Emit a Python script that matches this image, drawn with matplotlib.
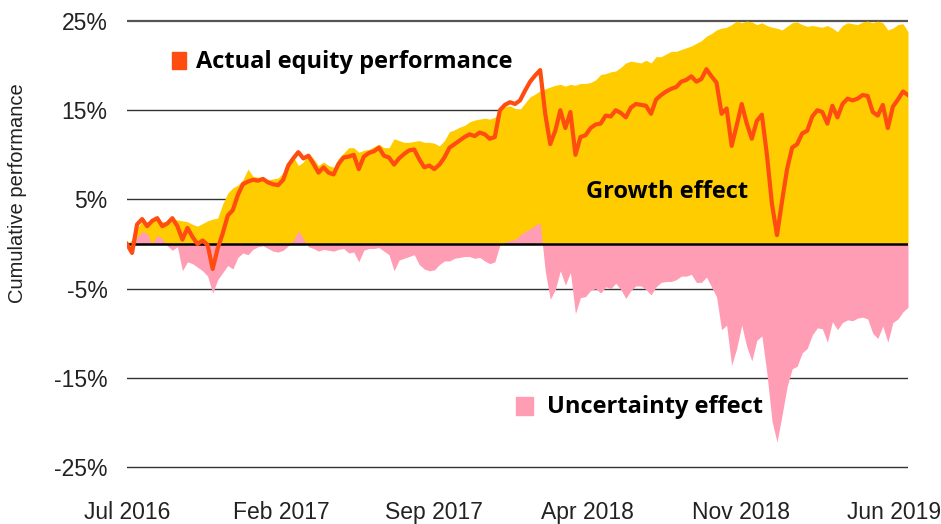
import matplotlib
matplotlib.use("Agg")
import matplotlib.pyplot as plt
from matplotlib.patches import Rectangle
import pandas as pd

# weekly readings (Fridays), Jul 2016 - Jun 2019, in %
start = "2016-07-01"
n_weeks = 156

actual = [0.0, -1.0, 2.2, 2.8, 2.0, 2.6, 2.9, 2.0, 2.3, 2.9,
          2.0, 0.5, 1.8, 0.8, 0.0, 0.4, -0.1, -2.8, -0.5, 1.2,
          3.2, 3.8, 5.5, 6.7, 7.0, 7.2, 7.1, 7.3, 6.9, 6.7,
          6.6, 7.2, 8.8, 9.6, 10.3, 9.6, 9.9, 9.0, 8.0, 8.6,
          8.0, 7.8, 9.0, 9.7, 9.8, 10.0, 8.4, 9.8, 10.2, 10.4,
          10.8, 9.9, 9.7, 8.9, 9.6, 10.1, 10.5, 10.6, 9.5, 8.6,
          8.8, 8.4, 8.9, 9.7, 10.8, 11.2, 11.6, 12.0, 12.3, 12.1,
          12.5, 12.3, 11.8, 12.0, 15.0, 15.6, 15.9, 15.7, 16.1, 17.2,
          18.2, 18.9, 19.5, 14.6, 11.2, 12.7, 15.0, 13.0, 14.8, 10.0,
          12.0, 12.2, 13.0, 13.4, 13.5, 14.4, 14.3, 15.0, 14.7, 14.2,
          15.3, 15.7, 15.6, 15.5, 14.6, 16.2, 16.7, 17.1, 17.4, 17.6,
          18.2, 18.4, 18.8, 18.2, 18.5, 19.6, 18.8, 18.1, 14.6, 15.2,
          11.0, 13.3, 15.7, 13.5, 11.8, 13.8, 14.5, 10.0, 4.5, 1.0,
          4.8, 8.4, 10.8, 11.2, 12.4, 12.7, 14.3, 15.0, 14.8, 13.5,
          15.5, 14.2, 15.7, 16.3, 16.1, 16.3, 16.7, 16.6, 14.8, 14.4,
          15.6, 13.0, 15.4, 16.2, 17.1, 16.7]

growth = [0.0, 0.5, 1.8, 2.5, 2.5, 2.6, 2.7, 2.5, 2.5, 2.8,
          2.7, 2.6, 2.5, 2.2, 2.0, 2.3, 2.6, 2.8, 2.9, 4.5,
          5.7, 6.3, 6.6, 7.2, 8.4, 7.6, 7.5, 7.5, 7.2, 7.3,
          7.4, 8.0, 9.2, 9.8, 8.8, 9.2, 10.2, 9.6, 8.8, 9.2,
          8.8, 8.6, 9.6, 10.2, 10.8, 10.8, 10.3, 10.5, 10.6, 10.9,
          11.2, 10.8, 10.8, 11.8, 11.6, 11.4, 11.4, 11.5, 11.6, 11.4,
          11.4, 11.3, 11.0, 11.6, 12.6, 12.8, 13.1, 13.3, 13.7, 13.9,
          14.0, 14.1, 14.0, 14.2, 15.0, 15.4, 15.5, 15.2, 15.1, 15.8,
          16.5, 16.8, 17.2, 17.4, 17.6, 17.8, 17.9, 17.7, 17.9, 17.8,
          18.0, 18.0, 18.1, 18.4, 19.0, 19.1, 19.3, 19.4, 19.8, 20.3,
          20.5, 20.4, 20.3, 20.6, 20.3, 21.0, 21.0, 21.3, 21.6, 21.6,
          21.8, 22.0, 22.2, 22.5, 22.8, 23.3, 23.6, 24.0, 24.2, 24.3,
          24.6, 25.0, 24.8, 25.0, 24.9, 24.6, 24.8, 24.5, 24.3, 24.2,
          24.0, 24.4, 24.8, 24.9, 24.6, 24.4, 24.5, 24.4, 24.3, 24.5,
          24.2, 23.8, 24.5, 24.8, 24.7, 24.6, 24.9, 25.0, 24.8, 25.0,
          24.8, 24.0, 24.2, 24.6, 24.7, 23.8]

uncertainty = [0.0, 0.0, 0.8, 1.4, 1.2, 0.0, 1.0, 0.6, -0.2, -0.7,
               -0.3, -3.0, -2.0, -2.2, -2.6, -3.0, -3.6, -5.5, -4.0, -3.2,
               -2.4, -2.8, -1.5, -1.0, -1.2, -0.6, -0.3, -0.2, -0.5, -0.8,
               -0.9, -0.7, -0.2, 0.4, 1.5, 0.6, -0.3, -0.5, -0.8, -0.6,
               -0.7, -0.8, -0.6, -0.5, -1.0, -0.9, -2.0, -0.7, -0.5, -0.5,
               -0.4, -0.8, -1.2, -3.0, -1.8, -1.6, -1.4, -1.2, -2.3, -2.8,
               -3.0, -2.9, -2.3, -1.9, -1.9, -1.6, -1.5, -1.4, -1.4, -1.6,
               -1.5, -1.9, -2.2, -2.0, -0.1, 0.2, 0.4, 0.5, 1.0, 1.4,
               1.7, 2.1, 2.4, -3.0, -6.2, -5.1, -3.0, -4.6, -3.2, -7.8,
               -6.0, -5.9, -5.2, -5.0, -5.5, -4.8, -5.0, -4.4, -5.1, -6.1,
               -5.2, -4.7, -4.7, -5.1, -5.7, -4.8, -4.3, -4.2, -4.2, -4.0,
               -3.6, -3.6, -3.4, -4.3, -4.3, -3.7, -4.8, -5.9, -9.6, -9.1,
               -13.6, -11.7, -9.1, -11.5, -13.1, -10.8, -10.3, -14.5, -19.8, -22.2,
               -19.2, -16.0, -14.0, -13.7, -12.2, -11.7, -10.2, -9.4, -9.5, -11.0,
               -8.7, -9.6, -8.8, -8.5, -8.6, -8.3, -8.2, -8.4, -10.0, -10.6,
               -9.2, -11.0, -8.8, -8.4, -7.6, -7.1]

yticks = [25, 15, 5, -5, -15, -25]
xtick_labels = ["Jul 2016", "Feb 2017", "Sep 2017", "Apr 2018", "Nov 2018", "Jun 2019"]
xtick_dates = ["2016-07-01", "2017-02-01", "2017-09-01", "2018-04-01", "2018-11-01", "2019-06-01"]

YELLOW = "#FFCC00"
PINK = "#FF9DB5"
ORANGE = "#FF4D12"

dates = pd.date_range(start, periods=n_weeks, freq="7D")

plain = ["Liberation Sans", "DejaVu Sans"]
bold = ["Open Sans", "DejaVu Sans"]
W, H = 941, 524

fig = plt.figure(figsize=(W / 100, H / 100), dpi=100)
ax = fig.add_axes([127 / W, 0.1002, 781 / W, 0.8716])

for y in yticks:
    ax.axhline(y, color="#555555" if y == 25 else "#333333",
               lw=1.6 if y == 25 else 1.0, zorder=1)

ax.fill_between(dates, 0, growth, color=YELLOW, lw=0, zorder=2)
ax.fill_between(dates, 0, uncertainty, color=PINK, lw=0, zorder=3)
ax.axhline(0, color="black", lw=1.8, zorder=4)
ax.plot(dates, actual, color=ORANGE, lw=3.0, zorder=5, solid_joinstyle="round")

ax.set_xlim(pd.Timestamp("2016-07-01"), dates[-1])
ax.set_ylim(-25.5, 25.7)
ax.set_yticks(yticks)
ax.set_yticklabels([f"{v}%" for v in yticks], family=plain, fontsize=16.5, color="#222222")
ax.set_xticks([pd.Timestamp(d) for d in xtick_dates])
ax.set_xticklabels(xtick_labels, family=plain, fontsize=16.5, color="#222222")
ax.tick_params(axis="both", length=0)
ax.tick_params(axis="y", pad=14)
ax.tick_params(axis="x", pad=21)
for s in ax.spines.values():
    s.set_visible(False)

fig.text(18 / W, 1 - 193 / H, "Cumulative performance", rotation=90,
         ha="center", va="center", family=plain, fontsize=14.5, color="#222222")

# in-plot labels (positions in picture pixels)
fig.patches.append(Rectangle((172 / W, 1 - 69 / H), 14 / W, 17 / H,
                             transform=fig.transFigure, color=ORANGE, zorder=6))
fig.text(196 / W, 1 - 68 / H, "Actual equity performance",
         fontsize=17, fontweight="bold", va="baseline", ha="left", family=bold)
fig.text(667 / W, 1 - 198 / H, "Growth effect",
         fontsize=17, fontweight="bold", va="baseline", ha="center", family=bold)
fig.patches.append(Rectangle((516 / W, 1 - 415 / H), 17 / W, 18 / H,
                             transform=fig.transFigure, color=PINK, zorder=6))
fig.text(547 / W, 1 - 413 / H, "Uncertainty effect",
         fontsize=17, fontweight="bold", va="baseline", ha="left", family=bold)

fig.savefig("out.png", dpi=100)
